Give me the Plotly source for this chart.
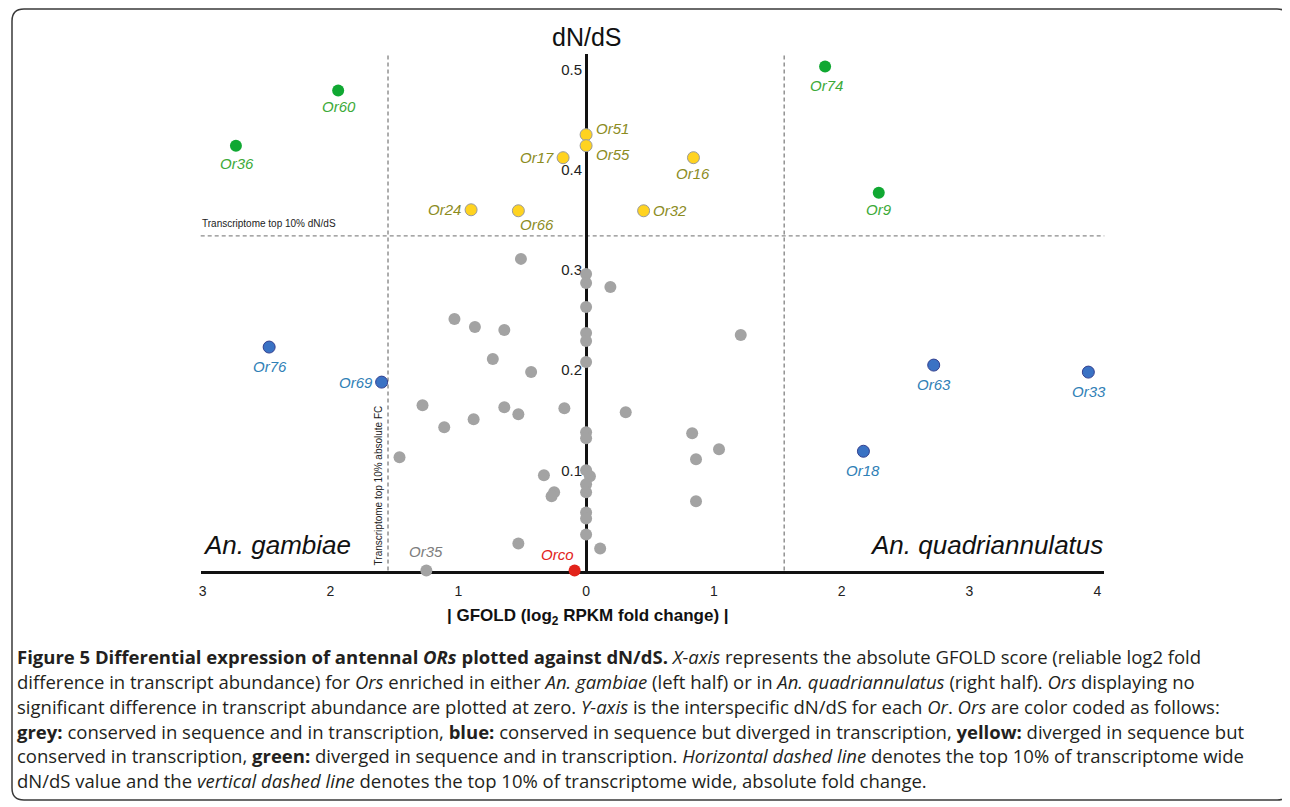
import plotly.graph_objects as go

# ---------------- data ----------------
# grey: conserved in sequence and transcription (unlabelled)
GREY_X = [-0.51, 0.00, 0.00, 0.19, 0.00, -1.03, -0.87, -0.64, 0.00, 0.00,
          -0.73, 0.00, -0.43, -1.28, -0.64, -0.53, -0.17, -0.88, -1.11, 0.00,
          0.00, -1.46, 0.00, 0.03, -0.33, 0.00, -0.25, -0.27, 0.00, 0.00,
          0.00, 0.00, -0.53, 0.11, 1.21, 0.31, 0.83, 1.04, 0.86, 0.86]
GREY_Y = [0.311, 0.296, 0.287, 0.283, 0.263, 0.251, 0.243, 0.240, 0.237, 0.229,
          0.211, 0.208, 0.198, 0.165, 0.163, 0.156, 0.162, 0.151, 0.143, 0.138,
          0.132, 0.113, 0.100, 0.094, 0.095, 0.086, 0.078, 0.074, 0.078, 0.058,
          0.052, 0.036, 0.027, 0.022, 0.235, 0.158, 0.137, 0.121, 0.111, 0.069]

# labelled receptors
LAB_NAMES = ["Or60", "Or36", "Or74", "Or9",
             "Or51", "Or55", "Or17", "Or24", "Or66", "Or32", "Or16",
             "Or76", "Or69", "Or63", "Or33", "Or18",
             "Or35", "Orco"]
LAB_X = [-1.94, -2.74, 1.87, 2.29,
         0.00, 0.00, -0.18, -0.90, -0.53, 0.45, 0.84,
         -2.48, -1.60, 2.72, 3.93, 2.17,
         -1.25, -0.09]
LAB_Y = [0.479, 0.424, 0.503, 0.377,
         0.435, 0.424, 0.412, 0.360, 0.359, 0.359, 0.412,
         0.223, 0.188, 0.205, 0.198, 0.119,
         0.000, 0.000]
LAB_GROUP = ["green", "green", "green", "green",
             "yellow", "yellow", "yellow", "yellow", "yellow", "yellow", "yellow",
             "blue", "blue", "blue", "blue", "blue",
             "grey", "red"]

DNDS_THRESHOLD = 0.334
FC_THRESHOLD = 1.55

X_TICKVALS = [-3, -2, -1, 0, 1, 2, 3, 4]
X_TICKTEXT = ["3", "2", "1", "0", "1", "2", "3", "4"]
Y_TICKVALS = [0.1, 0.2, 0.3, 0.4, 0.5]
Y_TICKTEXT = ["0.1", "0.2", "0.3", "0.4", "0.5"]

CAPTION_LINES = [
    "<b>Figure 5 Differential expression of antennal <i>ORs</i> plotted against dN/dS.</b> "
    "<i>X-axis</i> represents the absolute GFOLD score (reliable log2 fold",
    "difference in transcript abundance) for <i>Ors</i> enriched in either <i>An. gambiae</i> "
    "(left half) or in <i>An. quadriannulatus</i> (right half). <i>Ors</i> displaying no",
    "significant difference in transcript abundance are plotted at zero. <i>Y-axis</i> is the "
    "interspecific dN/dS for each <i>Or</i>. <i>Ors</i> are color coded as follows:",
    "<b>grey:</b> conserved in sequence and in transcription, <b>blue:</b> conserved in sequence "
    "but diverged in transcription, <b>yellow:</b> diverged in sequence but",
    "conserved in transcription, <b>green:</b> diverged in sequence and in transcription. "
    "<i>Horizontal dashed line</i> denotes the top 10% of transcriptome wide",
    "dN/dS value and the <i>vertical dashed line</i> denotes the top 10% of transcriptome wide, "
    "absolute fold change.",
]

# ---------------- styles ----------------
OFF = 8                      # page body margin
W, H = 1290 - OFF, 807 - OFF
X0PX, XSCALE = 585, 128.0    # page pixel of x = 0, pixels per unit
Y0PX, YSCALE = 570.5, 1002.0 # page pixel of y = 0, pixels per unit
FONT = "Liberation Sans, Arial, sans-serif"
CAP_FONT = "Open Sans, Noto Sans, sans-serif"

DOT = {
    "green": dict(color="#10a832", line=dict(color="#10a832", width=0)),
    "yellow": dict(color="#ffd320", line=dict(color="#9a9a9a", width=1)),
    "blue": dict(color="#3a72c4", line=dict(color="#33408f", width=1)),
    "grey": dict(color="#a3a3a3", line=dict(color="#a3a3a3", width=0)),
    "red": dict(color="#e2231a", line=dict(color="#e2231a", width=0)),
}
TXT = {"green": "#3caa38", "yellow": "#8c8c1e", "blue": "#2f80b6",
       "grey": "#7d7d7d", "red": "#e2231a"}

# label placement: (xanchor, xshift px, yshift px)
LABEL_POS = {
    "Or60": ("center", 1, -16), "Or36": ("center", 1, -18), "Or74": ("center", 1, -19),
    "Or9": ("center", 0, -17), "Or51": ("left", 8, 6), "Or55": ("left", 8, -9),
    "Or17": ("right", -7, 0), "Or24": ("right", -8, 0), "Or66": ("center", 19, -14),
    "Or32": ("left", 7, 0), "Or16": ("center", 0, -16), "Or76": ("center", 1, -19),
    "Or69": ("right", -7, 0), "Or63": ("center", 0, -19), "Or33": ("center", 1, -19),
    "Or18": ("center", 0, -19), "Or35": ("center", 0, 19), "Orco": ("center", -17, 16),
}


def px(xp):
    return (xp - OFF) / W


def py(yp):
    return 1 - (yp - OFF) / H


fig = go.Figure()

fig.add_trace(go.Scatter(
    x=GREY_X, y=GREY_Y, mode="markers", cliponaxis=False, hoverinfo="skip",
    marker=dict(size=12, **DOT["grey"])))

for grp in ["grey", "yellow", "green", "blue", "red"]:
    xs = [x for x, g in zip(LAB_X, LAB_GROUP) if g == grp]
    ys = [y for y, g in zip(LAB_Y, LAB_GROUP) if g == grp]
    fig.add_trace(go.Scatter(
        x=xs, y=ys, mode="markers", cliponaxis=False, hoverinfo="skip",
        marker=dict(size=12, **DOT[grp])))

annotations = []
for name, x, y, g in zip(LAB_NAMES, LAB_X, LAB_Y, LAB_GROUP):
    xa, xs, ys = LABEL_POS[name]
    annotations.append(dict(
        x=x, y=y, xref="x", yref="y", text=f"<i>{name}</i>", showarrow=False,
        xanchor=xa, yanchor="middle", xshift=xs, yshift=ys,
        font=dict(family=FONT, size=15, color=TXT[g])))

# axis/plot texts
annotations += [
    dict(x=px(585), y=py(37), xref="paper", yref="paper", text="dN/dS", showarrow=False,
         xanchor="center", yanchor="middle", font=dict(family=FONT, size=25, color="#111")),
    dict(x=px(199), y=py(545), xref="paper", yref="paper", text="<i>An. gambiae</i>",
         showarrow=False, xanchor="left", yanchor="middle",
         font=dict(family=FONT, size=26, color="#111")),
    dict(x=px(1105), y=py(545), xref="paper", yref="paper", text="<i>An. quadriannulatus</i>",
         showarrow=False, xanchor="right", yanchor="middle",
         font=dict(family=FONT, size=26, color="#111")),
    dict(x=px(198), y=py(223), xref="paper", yref="paper", text="Transcriptome top 10% dN/dS",
         showarrow=False, xanchor="left", yanchor="middle",
         font=dict(family=FONT, size=10, color="#222")),
    dict(x=px(377), y=py(485), xref="paper", yref="paper",
         text="Transcriptome top 10% absolute FC", textangle=-90,
         showarrow=False, xanchor="center", yanchor="middle",
         font=dict(family=FONT, size=10, color="#222")),
    dict(x=px(587), y=py(617), xref="paper", yref="paper",
         text="<b>| GFOLD (log<sub>2</sub> RPKM fold change) |</b>",
         showarrow=False, xanchor="center", yanchor="middle",
         font=dict(family=FONT, size=17, color="#111")),
]

CAP_Y = [656, 681, 706, 731, 755, 780]
for line, yy in zip(CAPTION_LINES, CAP_Y):
    annotations.append(dict(
        x=px(13), y=py(yy), xref="paper", yref="paper", text=line, showarrow=False,
        xanchor="left", yanchor="middle", align="left",
        font=dict(family=CAP_FONT, size=18.5, color="#231f20")))

dash = dict(color="#8a8a8a", width=1.4, dash="4px,3px")
shapes = [
    dict(type="line", xref="x domain", yref="y", x0=0, x1=1,
         y0=DNDS_THRESHOLD, y1=DNDS_THRESHOLD, line=dash, layer="below"),
    dict(type="line", xref="x", yref="y domain", x0=-FC_THRESHOLD, x1=-FC_THRESHOLD,
         y0=0, y1=1, line=dash, layer="below"),
    dict(type="line", xref="x", yref="y domain", x0=FC_THRESHOLD, x1=FC_THRESHOLD,
         y0=0, y1=1, line=dash, layer="below"),
]
# rounded frame around figure + caption
L, T, R, B, r = 10, 9, 1289, 800, 12
rx, ry = r / W, r / H
path = (f"M {px(L)},{py(T) - ry} Q {px(L)},{py(T)} {px(L) + rx},{py(T)} "
        f"L {px(R) - rx},{py(T)} Q {px(R)},{py(T)} {px(R)},{py(T) - ry} "
        f"L {px(R)},{py(B) + ry} Q {px(R)},{py(B)} {px(R) - rx},{py(B)} "
        f"L {px(L) + rx},{py(B)} Q {px(L)},{py(B)} {px(L)},{py(B) + ry} Z")
shapes.append(dict(type="path", xref="paper", yref="paper", path=path,
                   line=dict(color="#3a3a3a", width=1.5)))

x_lo, x_hi = (199 - X0PX) / XSCALE, (1104 - X0PX) / XSCALE
y_top = (Y0PX - 54) / YSCALE

fig.update_layout(
    width=W, height=H, margin=dict(l=0, r=0, t=0, b=0),
    paper_bgcolor="white", plot_bgcolor="white", showlegend=False,
    xaxis=dict(domain=[px(199), px(1104)], range=[x_lo, x_hi],
               showline=True, linecolor="#111", linewidth=3, ticks="",
               tickvals=X_TICKVALS, ticktext=X_TICKTEXT, showgrid=False,
               zeroline=False, layer="below traces", ticklabelstandoff=6,
               tickfont=dict(family=FONT, size=14, color="#222"), fixedrange=True),
    yaxis=dict(domain=[py(Y0PX), py(54)], range=[0, y_top],
               anchor="free", position=px(X0PX),
               showline=True, linecolor="#111", linewidth=3, ticks="",
               tickvals=Y_TICKVALS, ticktext=Y_TICKTEXT, showgrid=False,
               zeroline=False, layer="below traces",
               tickfont=dict(family=FONT, size=15, color="#222"), fixedrange=True),
    annotations=annotations, shapes=shapes,
)

fig.write_html("out.html")
